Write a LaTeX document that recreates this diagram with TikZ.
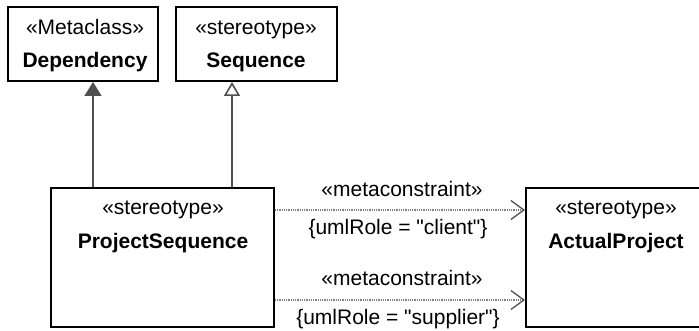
\documentclass[tikz,border=0pt]{standalone}
\usepackage{fontspec}
\setmainfont{Liberation Sans}
\usetikzlibrary{arrows.meta}
\definecolor{linegray}{HTML}{505050}
\definecolor{dotgray}{HTML}{808080}
\tikzset{
  box/.style={draw=black, line width=2pt, fill=white, inner sep=0pt},
  txt/.style={font=\fontsize{21}{25}\selectfont, inner sep=0pt, anchor=base, text=black},
  btxt/.style={font=\fontsize{21}{25}\selectfont\bfseries, inner sep=0pt, anchor=base, text=black},
  gen/.style={draw=linegray, line width=1.6pt},
  mc/.style={draw=dotgray, line width=1.3pt, dash pattern=on 1pt off 0.8pt},
}
\begin{document}
\begin{tikzpicture}[x=1pt,y=-1pt]
\useasboundingbox (0,0) rectangle (699,331);
\clip (0,0) rectangle (699,331);
% boxes
\node[box, minimum width=150pt, minimum height=74pt] (dep) at (83,44) {};
\node[box, minimum width=161pt, minimum height=74pt] (seq) at (256.5,44) {};
\node[box, minimum width=223pt, minimum height=139pt] (ps) at (162.5,257.5) {};
\node[box, minimum width=180pt, minimum height=139pt] (ap) at (616,257.5) {};
% box texts
\node[txt] (depst) at (85,35) {«Metaclass»};
\node[btxt] (depnm) at (85,68) {Dependency};
\node[txt] (seqst) at (256,35) {«stereotype»};
\node[btxt] (seqnm) at (256,68) {Sequence};
\node[txt] (psst) at (163,215) {«stereotype»};
\node[btxt] (psnm) at (163,248) {ProjectSequence};
\node[txt] (apst) at (616,215) {«stereotype»};
\node[btxt] (apnm) at (616,249) {ActualProject};
% connector helpers
\coordinate (gx1) at (93,0);
\coordinate (gx2) at (232,0);
\coordinate (dy1) at (0,210);
\coordinate (dy2) at (0,300);
% generalisation-like arrows
\draw[gen, -{Triangle[length=14pt,width=17pt,fill=linegray]}] (ps.north -| gx1) -- (dep.south -| gx1);
\draw[gen, -{Triangle[open,length=14pt,width=16pt,fill=white]}] (ps.north -| gx2) -- (seq.south -| gx2);
% metaconstraints
\draw[mc, -{Straight Barb[length=13pt,width=19pt,line width=1.3pt,color=linegray]}] (ps.east |- dy1) -- (ap.west |- dy1);
\draw[mc, -{Straight Barb[length=13pt,width=19pt,line width=1.3pt,color=linegray]}] (ps.east |- dy2) -- (ap.west |- dy2);
% labels
\node[txt] (l1a) at (402,197) {«metaconstraint»};
\node[txt] (l1b) at (398,235) {\{umlRole = \textquotedbl client\textquotedbl\}};
\node[txt] (l2a) at (402,286) {«metaconstraint»};
\node[txt] (l2b) at (398,324) {\{umlRole = \textquotedbl supplier\textquotedbl\}};
\end{tikzpicture}
\end{document}
